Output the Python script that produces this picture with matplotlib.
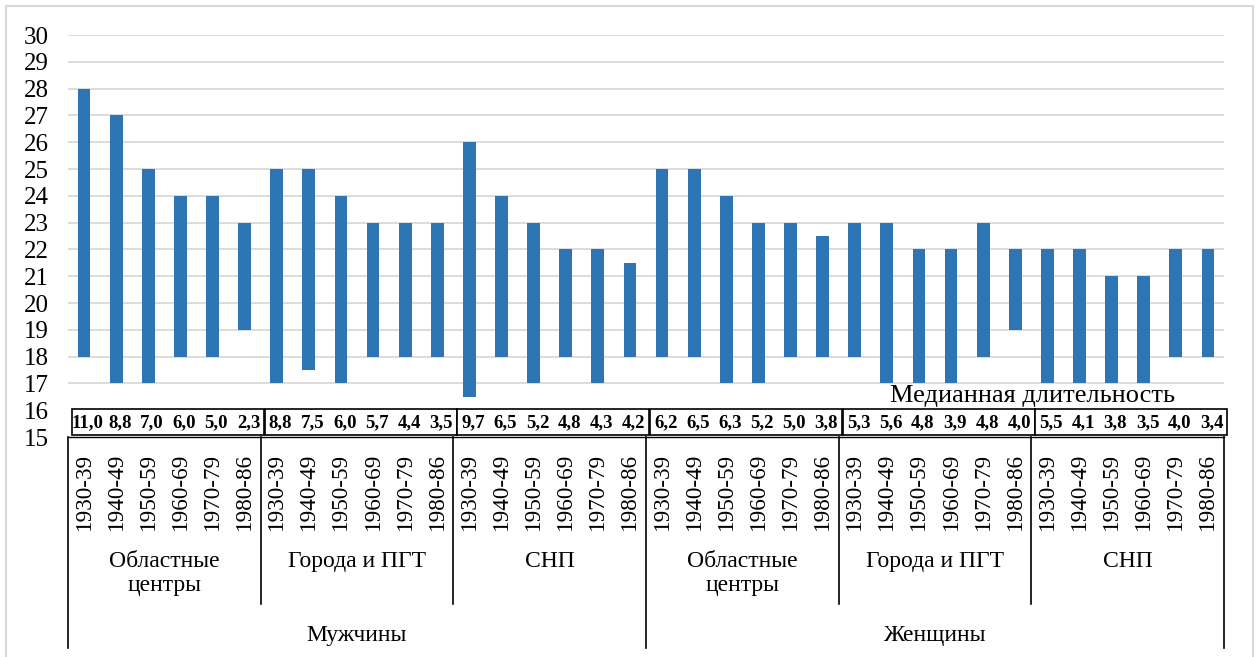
import matplotlib
matplotlib.use('Agg')
import matplotlib.pyplot as plt
from matplotlib.patches import Rectangle
from matplotlib.transforms import blended_transform_factory

plt.rcParams['font.family'] = ['Liberation Serif', 'DejaVu Serif']

# подписи категорий
periods = ['1930-39', '1940-49', '1950-59', '1960-69', '1970-79', '1980-86']
settlements = ['Областные\nцентры', 'Города и ПГТ', 'СНП']
sexes = ['Мужчины', 'Женщины']

# верхняя и нижняя границы (возраст), по 6 периодов в каждой группе
upper = [28, 27, 25, 24, 24, 23,
         25, 25, 24, 23, 23, 23,
         26, 24, 23, 22, 22, 21.5,
         25, 25, 24, 23, 23, 22.5,
         23, 23, 22, 22, 23, 22,
         22, 22, 21, 21, 22, 22]
lower = [18, 17, 17, 18, 18, 19,
         17, 17.5, 17, 18, 18, 18,
         16.5, 18, 17, 18, 17, 18,
         18, 18, 17, 17, 18, 18,
         18, 17, 17, 17, 18, 19,
         17, 17, 17, 17, 18, 18]
# медианная длительность
median = [11.0, 8.8, 7.0, 6.0, 5.0, 2.3,
          8.8, 7.5, 6.0, 5.7, 4.4, 3.5,
          9.7, 6.5, 5.2, 4.8, 4.3, 4.2,
          6.2, 6.5, 6.3, 5.2, 5.0, 3.8,
          5.3, 5.6, 4.8, 3.9, 4.8, 4.0,
          5.5, 4.1, 3.8, 3.5, 4.0, 3.4]

W, H = 1259, 657
fig = plt.figure(figsize=(W / 100, H / 100), dpi=100)
ax = fig.add_axes([68 / W, 1 - 437 / H, (1224 - 68) / W, (437 - 35) / H])

n = len(upper)
x = list(range(n))
heights = [u - l for u, l in zip(upper, lower)]
ax.bar(x, heights, bottom=lower, width=0.4, color='#2E75B6', zorder=2)

ax.set_xlim(-0.5, n - 0.5)
ax.set_ylim(15, 30)
ax.hlines(range(17, 31), -0.5, n - 0.5, color='#D9D9D9', lw=1.3, zorder=0)

ax.set_yticks(range(15, 31))
ax.tick_params(axis='y', length=0, pad=14, labelsize=18)
ax.tick_params(axis='x', bottom=False, labelbottom=False)
for s in ['top', 'right', 'left']:
    ax.spines[s].set_visible(False)
ax.spines['bottom'].set_color('black')
ax.spines['bottom'].set_linewidth(1.0)

# строка таблицы с медианной длительностью
shift = 0.12
for g in range(n // 6):
    ax.add_patch(Rectangle((6 * g - 0.5 + shift, 15.07), 5.98, 0.97,
                           fc='white', ec='black', lw=1.2,
                           clip_on=False, zorder=3))
for i, v in enumerate(median):
    ax.text(i + shift, 15.55, f'{v:.1f}'.replace('.', ','), fontsize=13.5,
            fontweight='bold', ha='center', va='center', zorder=4)

ax.text(29.55, 16.31, 'Медианная длительность', fontsize=19,
        ha='center', va='baseline', zorder=4)

# многоуровневая ось категорий
tr = blended_transform_factory(ax.transData, fig.transFigure)


def fy(py):
    return 1 - py / H


for i in range(n):
    ax.text(i, fy(453), periods[i % 6], rotation=90, ha='center', va='top',
            fontsize=16.7, transform=tr)

for k in range(1, n // 6):
    if k % 3 == 0:
        continue
    ax.plot([6 * k - 0.5] * 2, [fy(437), fy(604)], color='black', lw=1.2,
            transform=tr, clip_on=False)
for k in [0, 3, 6]:
    ax.plot([6 * k - 0.5] * 2, [fy(437), fy(648)], color='black', lw=1.2,
            transform=tr, clip_on=False)

for g in range(n // 6):
    ax.text(6 * g + 2.5, fy(551), settlements[g % 3], ha='center', va='top',
            fontsize=17, linespacing=1.2, transform=tr)
for j, name in enumerate(sexes):
    ax.text(18 * j + 8.5, fy(635), name, ha='center', va='center',
            fontsize=17, transform=tr)

# рамка диаграммы
fig.add_artist(Rectangle((6 / W, -0.05), (1253 - 6) / W, 1.05 - 6 / H,
                         transform=fig.transFigure, fill=False,
                         ec='#D9D9D9', lw=1.5))

fig.savefig('out.png', dpi=100)
plt.close(fig)
